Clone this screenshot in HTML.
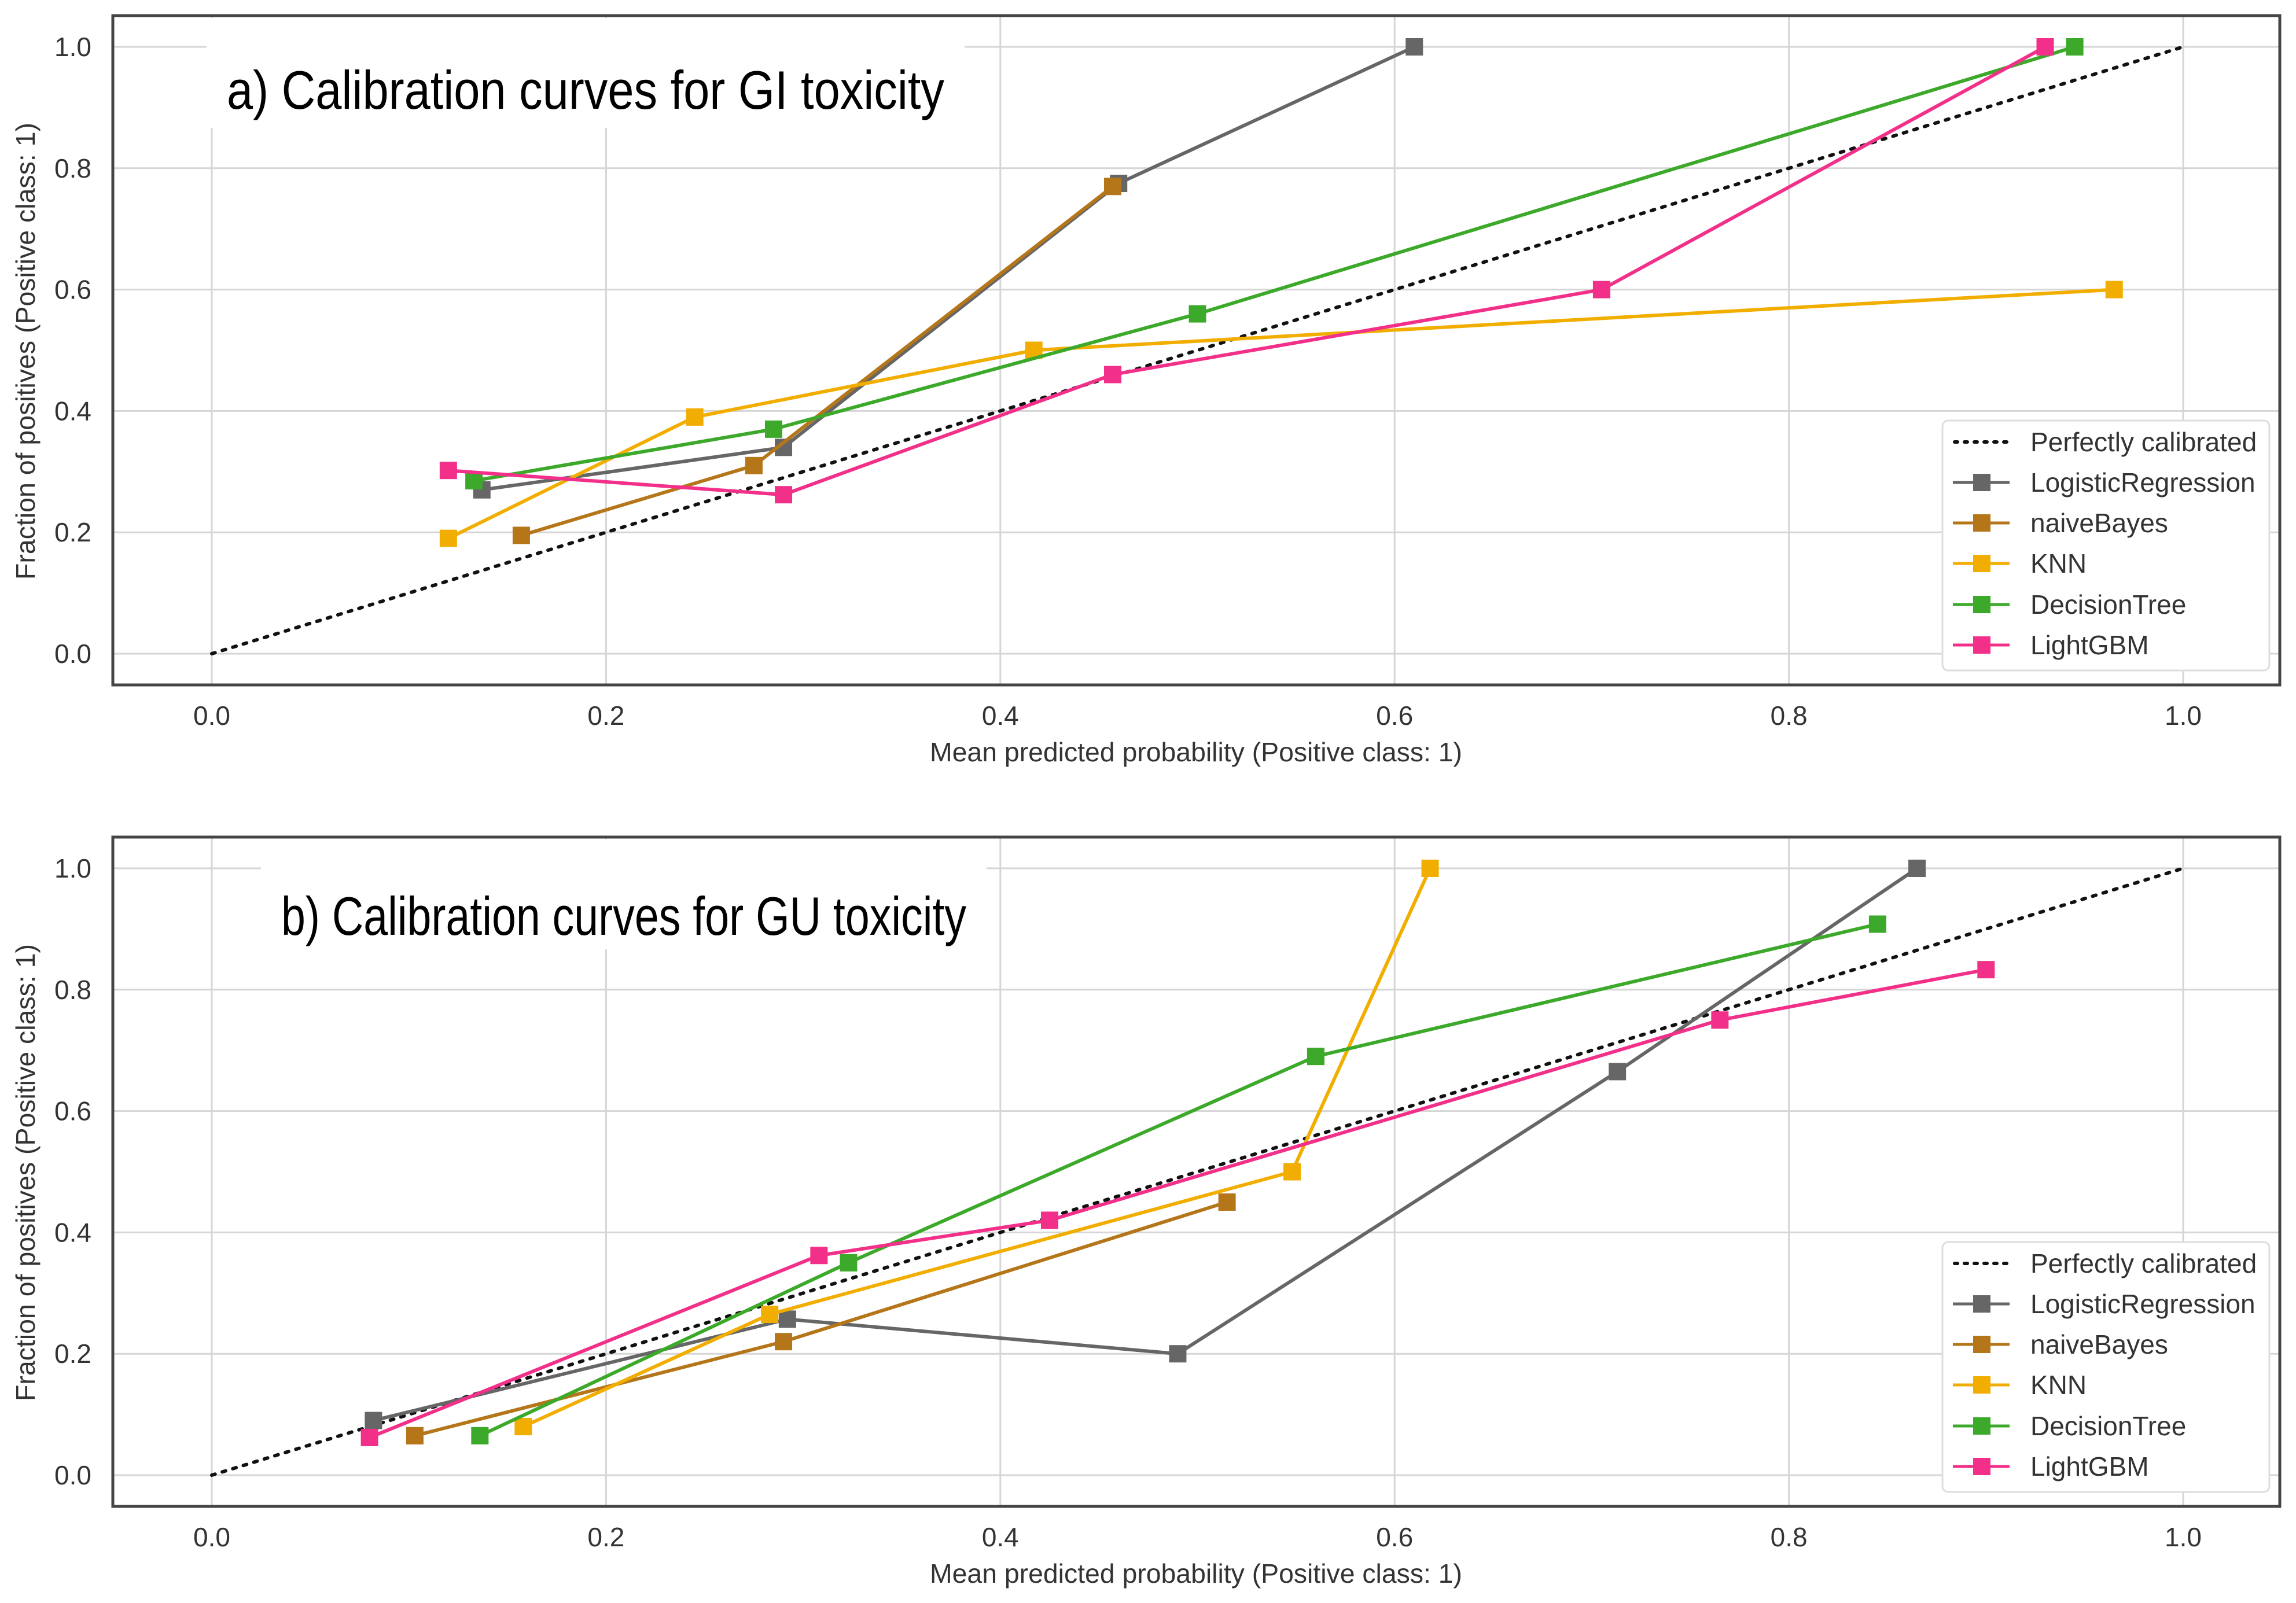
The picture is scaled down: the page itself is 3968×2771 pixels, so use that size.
<!DOCTYPE html>
<html><head><meta charset="utf-8"><style>
html,body{margin:0;padding:0;background:#fff;}
svg{display:block;font-family:"Liberation Sans",Arial,sans-serif;}
</style></head><body>
<svg id="fig" width="3968" height="2771" viewBox="0 0 3968 2771" xmlns="http://www.w3.org/2000/svg"></svg>
<script>
const seriesNames = ["LogisticRegression","naiveBayes","KNN","DecisionTree","LightGBM"];
const seriesColors = ["#666666","#b5761a","#f2ae00","#3ca92a","#f2308a"];
const ticks = [0,0.2,0.4,0.6,0.8,1.0];
const tickLabels = ["0.0","0.2","0.4","0.6","0.8","1.0"];
// Panel a (GI)
const aLRx=[0.137,0.29,0.46,0.61], aLRy=[0.27,0.34,0.775,1.0];
const aNBx=[0.157,0.275,0.457], aNBy=[0.195,0.31,0.77];
const aKNNx=[0.12,0.245,0.417,0.965], aKNNy=[0.19,0.39,0.5,0.6];
const aDTx=[0.133,0.285,0.5,0.945], aDTy=[0.285,0.37,0.56,1.0];
const aLGx=[0.12,0.29,0.457,0.705,0.93], aLGy=[0.302,0.262,0.46,0.6,1.0];
// Panel b (GU)
const bLRx=[0.082,0.292,0.49,0.713,0.865], bLRy=[0.09,0.257,0.2,0.665,1.0];
const bNBx=[0.103,0.29,0.515], bNBy=[0.065,0.22,0.45];
const bKNNx=[0.158,0.283,0.548,0.618], bKNNy=[0.08,0.265,0.5,1.0];
const bDTx=[0.136,0.323,0.56,0.845], bDTy=[0.065,0.35,0.69,0.908];
const bLGx=[0.08,0.308,0.425,0.765,0.9], bLGy=[0.062,0.362,0.42,0.75,0.833];

const NS="http://www.w3.org/2000/svg";
const svg=document.getElementById('fig');
function mk(tag,attrs,parent){const e=document.createElementNS(NS,tag);for(const k in attrs)e.setAttribute(k,attrs[k]);(parent||svg).appendChild(e);return e;}

function panel(pid,top,title,titleX,titleW,titleBase,data){
  const boxL=195,boxR=3940,boxT=top,boxB=top+1157;
  const x0=366,x1=3773,y0=top+1103,y1=top+54;
  const sx=v=>x0+(x1-x0)*v, sy=v=>y0+(y1-y0)*v;
  const g=mk('g',{});
  
  
  ticks.forEach((t,i)=>{
    const gx=mk('line',{x1:sx(t),x2:sx(t),y1:boxT,y2:boxB,stroke:'#d6d6d6','stroke-width':3},g);
    
    
    const gy=mk('line',{x1:boxL,x2:boxR,y1:sy(t),y2:sy(t),stroke:'#d6d6d6','stroke-width':3},g);
    
    
    const tx=mk('text',{x:sx(t),y:boxB+69,'font-size':46,fill:'#333','text-anchor':'middle'},g);
    tx.textContent=tickLabels[i];
    
    
    const ty=mk('text',{x:158,y:sy(t)+16,'font-size':46,fill:'#333','text-anchor':'end'},g);
    ty.textContent=tickLabels[i];
    
    
  });
  const tb=mk('rect',{x:titleX-35,y:boxT+4,width:titleW+70,height:190,fill:'#fff'},g);
  
  
  const d=mk('line',{x1:sx(0),y1:sy(0),x2:sx(1),y2:sy(1),stroke:'#111','stroke-width':6,'stroke-dasharray':'6 13','stroke-linecap':'round'},g);
  
  
  data.forEach((s,i)=>{
    const pts=s[0].map((v,j)=>sx(v)+','+sy(s[1][j])).join(' ');
    const pl=mk('polyline',{points:pts,fill:'none',stroke:seriesColors[i],'stroke-width':6},g);
    
    
    s[0].forEach((v,j)=>{
      const r=mk('rect',{x:sx(v)-15,y:sy(s[1][j])-15,width:30,height:30,fill:seriesColors[i]},g);
      
      
    });
  });
  const fr=mk('rect',{x:boxL,y:boxT,width:boxR-boxL,height:boxB-boxT,fill:'none',stroke:'#444','stroke-width':5},g);
  
  
  const tt=mk('text',{x:titleX,y:titleBase,'font-size':94,fill:'#000',textLength:titleW,lengthAdjust:'spacingAndGlyphs'},g);
  tt.textContent=title;
  
  
  const xl=mk('text',{x:2067,y:boxB+132,'font-size':46,fill:'#333','text-anchor':'middle',textLength:920,lengthAdjust:'spacingAndGlyphs'},g);
  xl.textContent='Mean predicted probability (Positive class: 1)';
  
  
  const yl=mk('text',{x:0,y:0,'font-size':46,fill:'#333','text-anchor':'middle',textLength:790,lengthAdjust:'spacingAndGlyphs',transform:`translate(60,${top+580}) rotate(-90)`},g);
  yl.textContent='Fraction of positives (Positive class: 1)';
  
  
  const lg=mk('g',{},g);
  
  
  mk('rect',{x:3357,y:top+700,width:565,height:432,rx:10,fill:'#fff',stroke:'#ddd','stroke-width':3},lg);
  const rowY=[737,807,877,947,1018,1088].map(v=>top+v);
  const labels=['Perfectly calibrated'].concat(seriesNames);
  labels.forEach((lab,i)=>{
    const y=rowY[i];
    if(i===0){
      const l=mk('line',{x1:3378,x2:3472,y1:y,y2:y,stroke:'#111','stroke-width':6,'stroke-dasharray':'5 12','stroke-linecap':'round'},lg);
      
      
    } else {
      const l=mk('line',{x1:3375,x2:3473,y1:y,y2:y,stroke:seriesColors[i-1],'stroke-width':5},lg);
      
      
      const m=mk('rect',{x:3410,y:y-15,width:30,height:30,fill:seriesColors[i-1]},lg);
      
      
    }
    const t=mk('text',{x:3509,y:y+16,'font-size':46,fill:'#333'},lg);
    t.textContent=lab;
    
    
  });
}
panel('gi',27,'a) Calibration curves for GI toxicity',392,1240,188,
  [[aLRx,aLRy],[aNBx,aNBy],[aKNNx,aKNNy],[aDTx,aDTy],[aLGx,aLGy]]);
panel('gu',1447,'b) Calibration curves for GU toxicity',486,1184,1616,
  [[bLRx,bLRy],[bNBx,bNBy],[bKNNx,bKNNy],[bDTx,bDTy],[bLGx,bLGy]]);
</script>
</body></html>
